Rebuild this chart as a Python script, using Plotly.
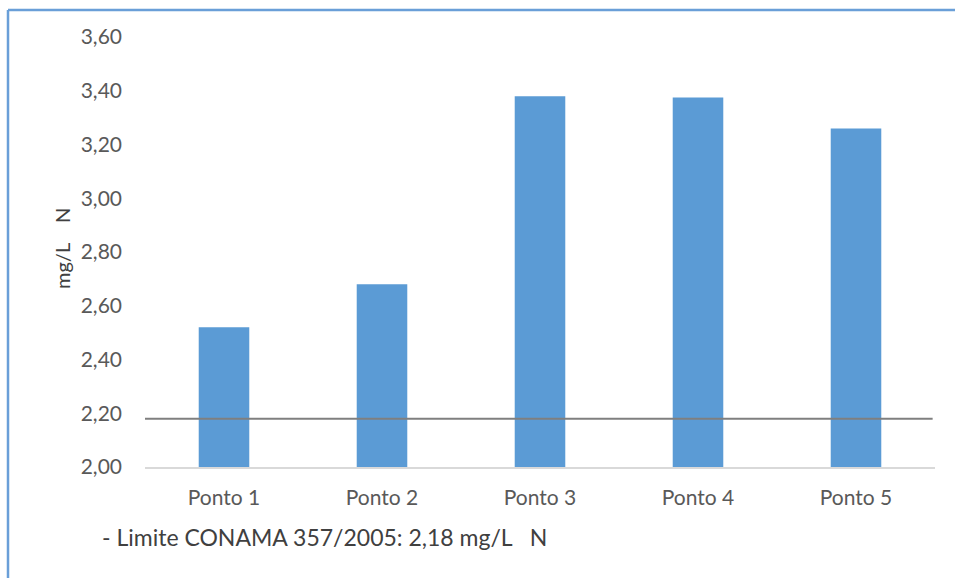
import plotly.graph_objects as go

# Nitrogen concentration per sampling point (mg/L N)
pontos = ["Ponto 1", "Ponto 2", "Ponto 3", "Ponto 4", "Ponto 5"]
valores = [2.52, 2.68, 3.38, 3.375, 3.26]

# CONAMA 357/2005 limit
limite = 2.18
limite_texto = "- Limite CONAMA 357/2005: 2,18 mg/L&nbsp;&nbsp; N"
titulo_y = "mg/L&nbsp;&nbsp;&nbsp; N"

y_ticks = [2.00, 2.20, 2.40, 2.60, 2.80, 3.00, 3.20, 3.40, 3.60]

W, H = 955, 578
ML, MR, MT, MB = 145, 20, 37, 111
PW, PH = W - ML - MR, H - MT - MB


def px_x(px):
    return (px - ML) / PW


def px_y(py):
    return (H - MB - py) / PH


FONT = "Lato, 'Open Sans', sans-serif"
GRAY = "#595959"

fig = go.Figure()
fig.add_trace(go.Bar(
    x=pontos,
    y=valores,
    base=0,
    width=0.32,
    marker=dict(color="#5B9BD5", line=dict(width=0)),
    hoverinfo="x+y",
))

fig.update_layout(
    width=W,
    height=H,
    margin=dict(l=ML, r=MR, t=MT, b=MB),
    paper_bgcolor="white",
    plot_bgcolor="white",
    separators=",.",
    showlegend=False,
    font=dict(family=FONT, size=21, color=GRAY),
    xaxis=dict(
        showgrid=False,
        showline=True,
        linecolor="#d9d9d9",
        linewidth=1.5,
        ticks="",
        ticklabelstandoff=11,
        tickfont=dict(size=21, color=GRAY),
    ),
    yaxis=dict(
        range=[2.0, 3.6],
        tickvals=y_ticks,
        tickformat=".2f",
        showgrid=False,
        zeroline=False,
        showline=False,
        ticks="",
        ticklabelstandoff=22,
        tickfont=dict(size=21, color=GRAY),
    ),
)

# limit line across the plot
fig.add_shape(
    type="line", xref="paper", yref="y",
    x0=0, x1=0.997, y0=limite, y1=limite,
    line=dict(color="#7f7f7f", width=2),
)

# outer chart border (left and top edges)
fig.add_shape(
    type="line", xref="paper", yref="paper",
    x0=px_x(8), x1=px_x(8), y0=px_y(H + 5), y1=px_y(10),
    line=dict(color="#6A9FD8", width=2.5),
)
fig.add_shape(
    type="line", xref="paper", yref="paper",
    x0=px_x(8), x1=px_x(W + 5), y0=px_y(10), y1=px_y(10),
    line=dict(color="#6A9FD8", width=2.5),
)

# y-axis title
fig.add_annotation(
    text=titulo_y, xref="paper", yref="paper",
    x=px_x(62), y=px_y(249), textangle=-90,
    showarrow=False, xanchor="center", yanchor="middle",
    font=dict(family=FONT, size=20, color="#404040"),
)

# limit caption
fig.add_annotation(
    text=limite_texto, xref="paper", yref="paper",
    x=px_x(100), y=px_y(537),
    showarrow=False, xanchor="left", yanchor="middle",
    font=dict(family=FONT, size=23, color="#404040"),
)

fig.write_html("out.html")
